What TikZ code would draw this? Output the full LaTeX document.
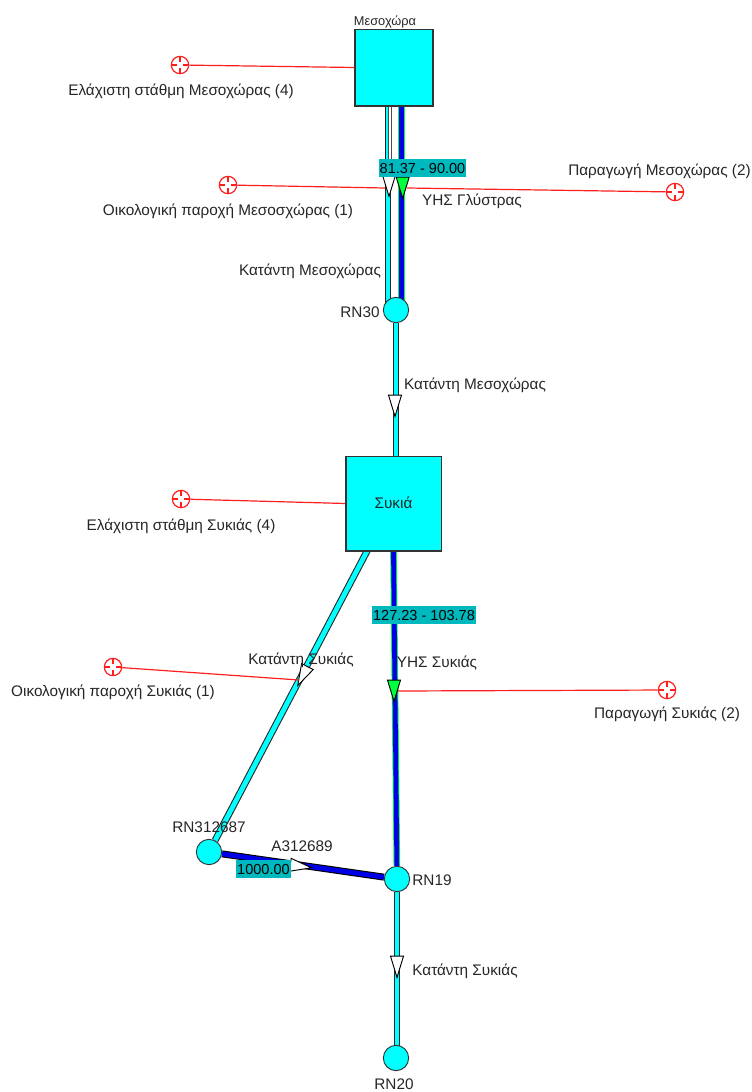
\documentclass[tikz,border=0pt]{standalone}
\usepackage{fontspec}
\setmainfont{Liberation Sans}
\usetikzlibrary{shapes.geometric,backgrounds}

\definecolor{nodecyan}{RGB}{0,255,255}
\definecolor{flowteal}{RGB}{0,185,190}
\definecolor{linegreen}{RGB}{0,255,60}
\definecolor{linkblue}{RGB}{0,0,230}
\definecolor{ctrlred}{RGB}{255,30,30}

\tikzset{
    reservoir/.style={draw=black!80, fill=nodecyan, line width=1pt, inner sep=0pt},
    junction/.style={draw=black!80, fill=nodecyan, circle, line width=0.7pt, minimum size=19pt, inner sep=0pt},
    control/.style={draw=ctrlred, circle, line width=0.9pt, minimum size=13pt, inner sep=0pt,
        path picture={\draw[ctrlred, line width=0.8pt]
            (path picture bounding box.north) -- ++(0,-4.5pt)
            (path picture bounding box.south) -- ++(0,4.5pt)
            (path picture bounding box.west) -- ++(4.5pt,0)
            (path picture bounding box.east) -- ++(-4.5pt,0);}},
    river/.style={draw=black!85, line width=0.8pt, double=nodecyan, double distance=3.6pt},
    dryriver/.style={draw=black!70, line width=0.4pt, double=white, double distance=1.6pt},
    tunnel/.style={draw=linegreen, line width=0.7pt, double=linkblue, double distance=3.6pt},
    pipe/.style={draw=black, line width=0.8pt, double=linkblue, double distance=3.6pt},
    ctrlline/.style={draw=ctrlred, line width=0.9pt},
    headmark/.style={draw=black, line width=0.7pt, isosceles triangle, isosceles triangle apex angle=34,
        minimum height=16pt, minimum width=0pt, inner sep=1pt, anchor=apex},
    flowlabel/.style={fill=flowteal, inner sep=0pt, font=\fontsize{10.9}{12}\selectfont},
    lbl/.style={inner sep=0pt, text=black!85, yshift=-1.2pt}
}

\begin{document}
\begin{tikzpicture}[x=0.75pt,y=-0.75pt,font=\fontsize{11.5}{13}\selectfont]
    \useasboundingbox (0,0) rectangle (752,1092);

    % storage and junctions
    \node[reservoir, minimum width=58.5pt, minimum height=57.5pt] (mesochora) at (394,67.5) {};
    \node[reservoir, minimum width=71.5pt, minimum height=71pt] (sykia) at (393.5,503.5) {};
    \node[lbl] at (393.5,501) {Συκιά};
    \node[junction] (rn30) at (396,310) {};
    \node[junction] (rn19) at (397,879) {};
    \node[junction] (rn312687) at (209,852) {};
    \node[junction] (rn20) at (396,1058) {};

    % links
    \begin{scope}[on background layer]
        \draw[river] ([xshift=-4.5pt]mesochora.south) -- ([xshift=-6pt]rn30.center);
        \draw[dryriver] ([xshift=-3pt]mesochora.south) -- ++(0,72);
        \draw[tunnel] ([xshift=5.7pt]mesochora.south) -- ([xshift=4.2pt]rn30.center);
        \draw[river] (rn30) -- (sykia.north -| rn30);
        \draw[tunnel] (sykia.south) -- (rn19);
        \draw[river] (rn19) -- (rn19 |- rn20);
        \draw[river, shorten <=-3pt] ([xshift=-20pt]sykia.south) -- (rn312687);
        \draw[pipe] (rn312687) -- (rn19);
    \end{scope}

    % targets
    \node[control] (mintarget) at (180,65) {};
    \node[control] (ecotarget) at (228,185) {};
    \node[control] (prodtarget) at (675,192) {};
    \node[control] (minsyk) at (181,499) {};
    \node[control] (ecosyk) at (113,667) {};
    \node[control] (prodsyk) at (667,690) {};

    % arrow heads, placed by the tip
    \node[headmark, fill=white, rotate=-90] (headriver) at (389,198) {};
    \node[headmark, fill=linegreen, rotate=-90] (headgl) at (402.7,200) {};
    \node[headmark, fill=white, rotate=-90] (headrn) at (395,418) {};
    \node[headmark, fill=white, rotate=-117] (headsyk) at (297,687) {};
    \node[headmark, fill=linegreen, rotate=-90] (headys) at (394,703) {};
    \node[headmark, fill=white, rotate=-8] (headpipe) at (313,868) {};
    \node[headmark, fill=white, rotate=-90] (headout) at (397,979) {};

    % control lines
    \coordinate (tapeco) at (385,188);
    \coordinate (tapgl) at (407,188);
    \coordinate (tapecosyk) at (299,680);
    \coordinate (tapys) at (398,691);
    \draw[ctrlline] (mintarget) -- (mesochora.west);
    \draw[ctrlline] (ecotarget) -- (tapeco);
    \draw[ctrlline] (prodtarget) -- (tapgl);
    \draw[ctrlline] (minsyk) -- (sykia.west);
    \draw[ctrlline] (ecosyk) -- (tapecosyk);
    \draw[ctrlline] (prodsyk) -- (tapys);

    % flow values
    \node[flowlabel, minimum width=65pt, minimum height=13.5pt] (flowgl) at (422.5,168) {81.37 - 90.00};
    \node[flowlabel, minimum width=78pt, minimum height=14pt] (flowys) at (424,615) {127.23 - 103.78};
    \node[flowlabel, minimum width=41pt, minimum height=13.5pt] (flowpipe) at (263.5,869) {1000.00};

    % labels
    \node[lbl, font=\fontsize{9.6}{12}\selectfont] at (385,20) {Μεσοχώρα};
    \node[lbl] at (181,90) {Ελάχιστη στάθμη Μεσοχώρας (4)};
    \node[lbl] at (228,210) {Οικολογική παροχή Μεσοσχώρας (1)};
    \node[lbl] at (659.5,170) {Παραγωγή Μεσοχώρας (2)};
    \node[lbl] at (472,200) {ΥΗΣ Γλύστρας};
    \node[lbl] at (310,270) {Κατάντη Μεσοχώρας};
    \node[lbl] at (360,311) {RN30};
    \node[lbl] at (475,384) {Κατάντη Μεσοχώρας};
    \node[lbl] at (181,525) {Ελάχιστη στάθμη Συκιάς (4)};
    \node[lbl] at (301,659) {Κατάντη Συκιάς};
    \node[lbl] at (113,691) {Οικολογική παροχή Συκιάς (1)};
    \node[lbl] at (437,661) {ΥΗΣ Συκιάς};
    \node[lbl] at (667,713) {Παραγωγή Συκιάς (2)};
    \node[lbl] at (209,826) {RN312687};
    \node[lbl] at (302,845) {A312689};
    \node[lbl] at (432,879) {RN19};
    \node[lbl] at (465,970) {Κατάντη Συκιάς};
    \node[lbl] at (394,1083) {RN20};
\end{tikzpicture}
\end{document}
